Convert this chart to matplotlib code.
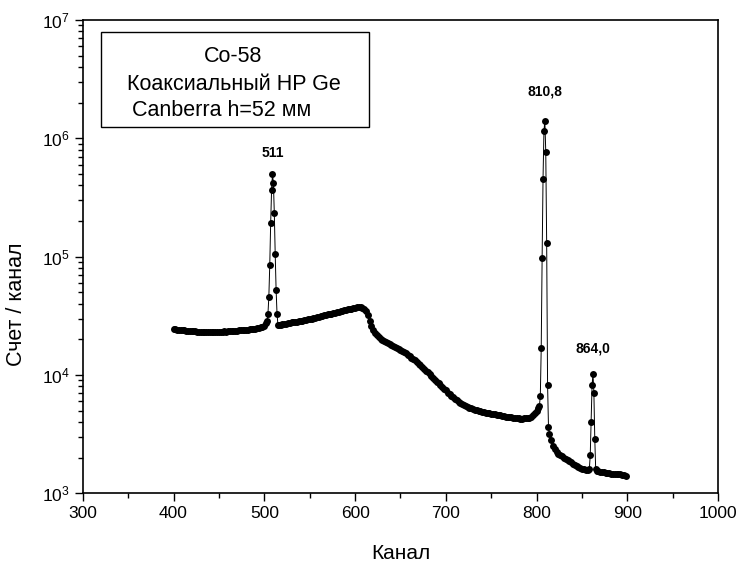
import matplotlib
matplotlib.use("Agg")
import matplotlib.pyplot as plt
from matplotlib.ticker import LogLocator, FixedLocator, NullFormatter
from matplotlib.patches import Rectangle

plt.rcParams['font.family'] = ['Liberation Sans', 'DejaVu Sans']
plt.rcParams['mathtext.fontset'] = 'custom'
plt.rcParams['mathtext.rm'] = 'Liberation Sans'
plt.rcParams['mathtext.it'] = 'Liberation Sans:italic'
plt.rcParams['mathtext.bf'] = 'Liberation Sans:bold'

# Co-58 spectrum, counts per channel in thousands
bg_low_ch = list(range(400, 503, 2))
bg_low_k = [24.5, 24.3, 24.2, 24.0, 23.9, 23.9, 23.8, 23.7, 23.6, 23.5,
            23.5, 23.4, 23.4, 23.3, 23.3, 23.2, 23.3, 23.2, 23.1, 23.2,
            23.2, 23.1, 23.2, 23.2, 23.3, 23.2, 23.2, 23.3, 23.4, 23.3,
            23.4, 23.5, 23.5, 23.6, 23.7, 23.7, 23.8, 23.9, 23.9, 24.0,
            24.1, 24.2, 24.3, 24.4, 24.6, 24.7, 24.8, 25.0, 25.2, 25.5,
            26.0, 27.5]

peak511_ch = list(range(503, 516))
peak511_k = [28.5, 32.6, 45.9, 85.0, 191.0, 366.0, 497.0, 423.0, 235.0,
             105.0, 52.0, 33.0, 26.5]

compton_ch = list(range(516, 801, 2))
compton_k = [26.6, 26.7, 26.9, 27.0, 27.2, 27.4, 27.6, 27.8, 28.0, 28.2,
             28.3, 28.5, 28.7, 28.8, 29.0, 29.3, 29.5, 29.7, 30.0, 30.3,
             30.5, 30.8, 31.1, 31.3, 31.6, 31.9, 32.2, 32.5, 32.8, 33.0,
             33.3, 33.6, 33.9, 34.2, 34.5, 34.9, 35.2, 35.5, 35.8, 36.1,
             36.4, 36.8, 37.0, 37.3, 37.5, 37.3, 36.8, 35.8, 34.5, 32.0,
             28.5, 26.0, 23.8, 22.6, 21.6, 20.9, 20.3, 19.8, 19.4, 19.0,
             18.7, 18.4, 18.0, 17.6, 17.3, 16.9, 16.6, 16.3, 15.9, 15.5,
             15.2, 14.8, 14.4, 14.0, 13.6, 13.3, 12.9, 12.5, 12.1, 11.7,
             11.3, 10.9, 10.5, 10.1, 9.8, 9.5, 9.1, 8.8, 8.5, 8.2,
             7.9, 7.6, 7.4, 7.1, 6.9, 6.7, 6.5, 6.3, 6.1, 5.95,
             5.8, 5.7, 5.6, 5.5, 5.4, 5.3, 5.25, 5.15, 5.1, 5.05,
             5.0, 4.95, 4.9, 4.85, 4.8, 4.75, 4.75, 4.7, 4.65, 4.65,
             4.6, 4.55, 4.55, 4.5, 4.5, 4.45, 4.45, 4.4, 4.4, 4.35,
             4.3, 4.3, 4.3, 4.25, 4.25, 4.3, 4.3, 4.3, 4.35, 4.45,
             4.6, 4.75, 5.0]

peak811_ch = list(range(802, 814))
peak811_k = [5.3, 5.5, 6.6, 16.8, 98.0, 456.0, 1150.0, 1410.0, 770.0,
             131.0, 8.3, 3.66]

tail_ch = list(range(814, 859, 2))
tail_k = [3.2, 2.8, 2.5, 2.35, 2.25, 2.15, 2.1, 2.05, 1.98, 1.95,
          1.9, 1.87, 1.83, 1.78, 1.74, 1.7, 1.66, 1.63, 1.61, 1.6,
          1.58, 1.57, 1.6]

peak864_ch = list(range(859, 866))
peak864_k = [2.1, 4.0, 8.2, 10.2, 7.1, 2.88, 1.6]

end_ch = list(range(866, 899, 2))
end_k = [1.55, 1.53, 1.52, 1.51, 1.5, 1.49, 1.49, 1.48, 1.47, 1.46,
         1.46, 1.45, 1.47, 1.46, 1.44, 1.43, 1.41]

peak_labels = ["511", "810,8", "864,0"]
peak_label_pos = [(509, 7.5e5), (809, 2.47e6), (862, 1.69e4)]

info_lines = ["Co-58", "Коаксиальный HP Ge", "Canberra h=52 мм"]


def main():
    channels = (bg_low_ch + peak511_ch + compton_ch + peak811_ch
                + tail_ch + peak864_ch + end_ch)
    counts_k = (bg_low_k + peak511_k + compton_k + peak811_k
                + tail_k + peak864_k + end_k)
    counts = [c * 1000 for c in counts_k]

    fig = plt.figure(figsize=(7.42, 5.63), dpi=100)
    ax = fig.add_axes([0.1115, 0.1238, 0.8565, 0.8407])

    ax.plot(channels, counts, color='black', linewidth=0.7,
            marker='o', markersize=5.0, markeredgewidth=0)

    ax.set_yscale('log')
    ax.set_xlim(300, 1000)
    ax.set_ylim(1e3, 1e7)

    ax.xaxis.set_major_locator(FixedLocator(range(300, 1001, 100)))
    ax.xaxis.set_minor_locator(FixedLocator(range(350, 1000, 100)))
    ax.yaxis.set_major_locator(LogLocator(base=10, numticks=10))
    ax.yaxis.set_minor_locator(LogLocator(base=10, subs=range(2, 10),
                                          numticks=10))
    ax.yaxis.set_minor_formatter(NullFormatter())

    ax.tick_params(which='major', direction='out', length=6, width=1.0,
                   labelsize=12.5, top=False, right=False)
    ax.tick_params(which='minor', direction='out', length=3.5, width=1.0,
                   top=False, right=False)
    for side in ax.spines.values():
        side.set_linewidth(1.2)

    ax.set_xlabel("Канал", fontsize=15, labelpad=16)
    ax.set_ylabel("Счет / канал", fontsize=15.5, labelpad=2)
    ax.yaxis.set_label_coords(-0.087, 0.40)

    for text, (x, y) in zip(peak_labels, peak_label_pos):
        ax.text(x, y, text, ha='center', va='center', fontsize=10,
                fontweight='bold')

    # Caption box in the upper left corner
    box = Rectangle((100.7 / 742, 1 - 127.3 / 563), 268.6 / 742, 95 / 563,
                    transform=fig.transFigure, fill=False,
                    edgecolor='black', linewidth=1.0)
    fig.patches.append(box)
    line_x = [233 / 742, 234 / 742, 222 / 742]
    line_y = [1 - 57 / 563, 1 - 84.3 / 563, 1 - 110 / 563]
    for text, x, y in zip(info_lines, line_x, line_y):
        fig.text(x, y, text, ha='center', va='center', fontsize=15.5)

    fig.savefig("out.png", dpi=100)


if __name__ == '__main__':
    main()
